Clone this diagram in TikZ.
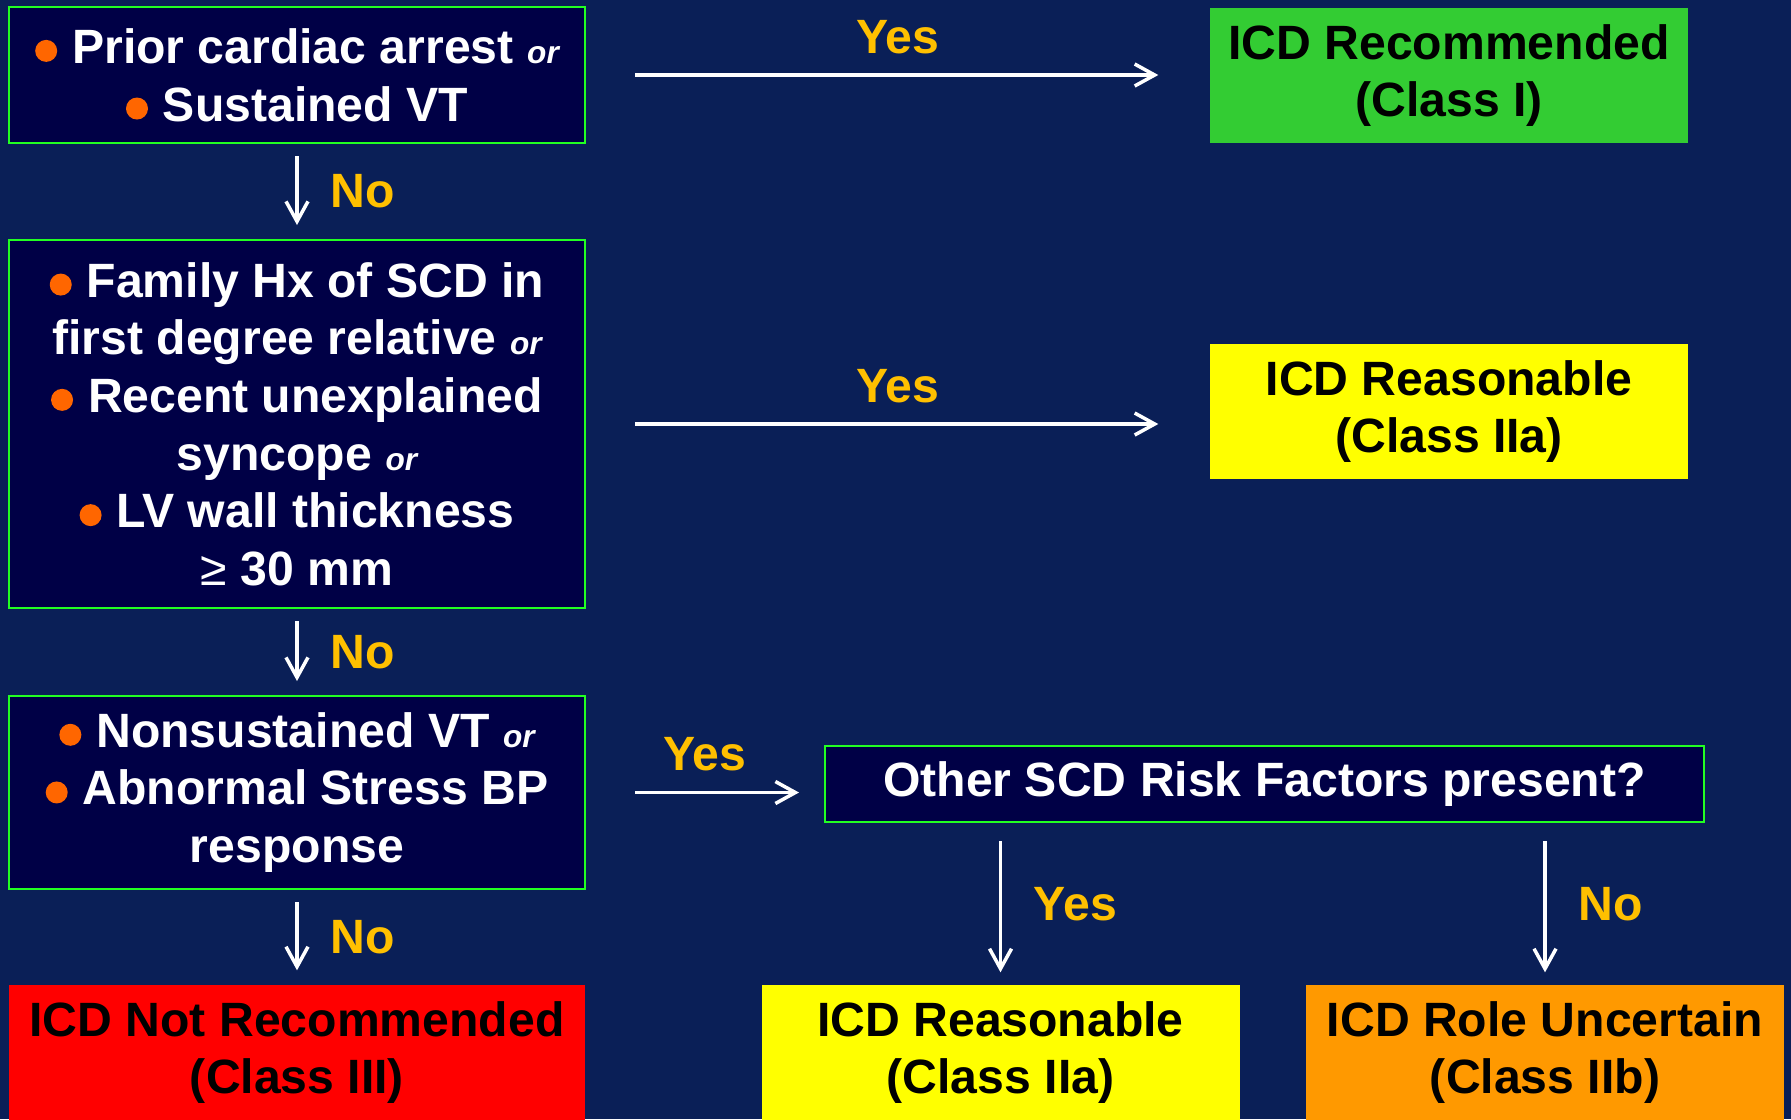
\documentclass[tikz,border=0pt]{standalone}
\usepackage{fontspec}
\setmainfont{Liberation Sans}
\usetikzlibrary{arrows.meta,positioning}

\definecolor{slidebg}{HTML}{0A1F57}
\definecolor{boxfill}{HTML}{000046}
\definecolor{boxline}{HTML}{22FF22}
\definecolor{labelgold}{HTML}{FFC000}
\definecolor{dotorange}{HTML}{FF6600}
\definecolor{classgreen}{HTML}{33CC33}
\definecolor{classyellow}{HTML}{FFFF00}
\definecolor{classred}{HTML}{FF0000}
\definecolor{classorange}{HTML}{FF9900}

\newcommand{\bul}{\tikz[baseline=-0.26em]\fill[dotorange] (0,0) circle (0.11cm);\hspace{0.15cm}}
\newcommand{\orw}{{\fontsize{9pt}{10pt}\selectfont\itshape or}}

\begin{document}
\begin{tikzpicture}[
    every node/.style={font=\bfseries\fontsize{13.7pt}{16.4pt}\selectfont, align=center},
    askbox/.style={draw=boxline, line width=0.02cm, fill=boxfill, text=white,
        minimum width=5.76cm},
    classbox/.style={text=black, minimum width=4.78cm, minimum height=1.35cm},
    link/.style={draw=white, line width=0.035cm,
        -{Straight Barb[length=0.2cm, width=0.22cm, line width=0.035cm]}},
    yeslabel/.style={text=labelgold, midway, above=0.08cm},
    nolabel/.style={text=labelgold, midway, right=0.2cm}
]
    % Background
    \useasboundingbox (0,0) rectangle (17.91,-11.19);
    \fill[slidebg] (0,0) rectangle (17.91,-11.19);

    % Questions, left column
    \node[askbox, minimum height=1.36cm] (arrest) at (2.97,-0.75)
        {\bul Prior cardiac arrest \orw\\ \bul Sustained VT};
    \node[askbox, minimum height=3.68cm] (history) at (2.97,-4.24)
        {\bul Family Hx of SCD in\\ first degree relative \orw\\
         \bul Recent unexplained\\ syncope \orw\\
         \bul LV wall thickness\\ {\mdseries ≥} 30 mm};
    \node[askbox, minimum height=1.93cm] (nsvt) at (2.97,-7.925)
        {\bul Nonsustained VT \orw\\ \bul Abnormal Stress BP\\ response};
    \node[askbox, minimum width=8.79cm, minimum height=0.76cm] (risk) at (12.645,-7.84)
        {Other SCD Risk Factors present?};

    % Outcomes
    \node[classbox, fill=classgreen] (rec) at (14.49,-0.755)
        {ICD Recommended\\ (Class I)};
    \node[classbox, fill=classyellow] (reas) at (14.49,-4.115)
        {ICD Reasonable\\ (Class IIa)};
    \node[classbox, fill=classred, minimum width=5.76cm] (notrec) at (2.97,-10.525)
        {ICD Not Recommended\\ (Class III)};
    \node[classbox, fill=classyellow] (reasb) at (10.005,-10.525)
        {ICD Reasonable\\ (Class IIa)};
    \node[classbox, fill=classorange] (uncertain) at (15.45,-10.525)
        {ICD Role Uncertain\\ (Class IIb)};

    % No branches
    \draw[link, shorten <=0.12cm, shorten >=0.14cm] (arrest.south) -- node[nolabel] (no1) {No} (history.north);
    \draw[link, shorten <=0.12cm, shorten >=0.14cm] (history.south) -- node[nolabel] (no2) {No} (nsvt.north);
    \draw[link, shorten <=0.12cm, shorten >=0.14cm] (nsvt.south) -- node[nolabel] (no3) {No} (notrec.north);

    % Yes branches
    \draw[link, shorten <=0.49cm, shorten >=0.51cm] (arrest.east) -- node[yeslabel] (yes1) {Yes} (arrest.east -| rec.west);
    \draw[link, shorten <=0.49cm, shorten >=0.51cm] (history.east) -- node[yeslabel] (yes2) {Yes} (history.east -| reas.west);
    \draw[link, shorten <=0.49cm, shorten >=0.25cm] (nsvt.east) -- node[yeslabel] (yes3) {Yes} (nsvt.east -| risk.west);

    % Other risk factors
    \draw[link, shorten <=0.18cm, shorten >=0.12cm] (risk.south -| reasb.north) -- node[nolabel] (yes4) {Yes} (reasb.north);
    \draw[link, shorten <=0.18cm, shorten >=0.12cm] (risk.south -| uncertain.north) -- node[nolabel] (no4) {No} (uncertain.north);
\end{tikzpicture}
\end{document}
